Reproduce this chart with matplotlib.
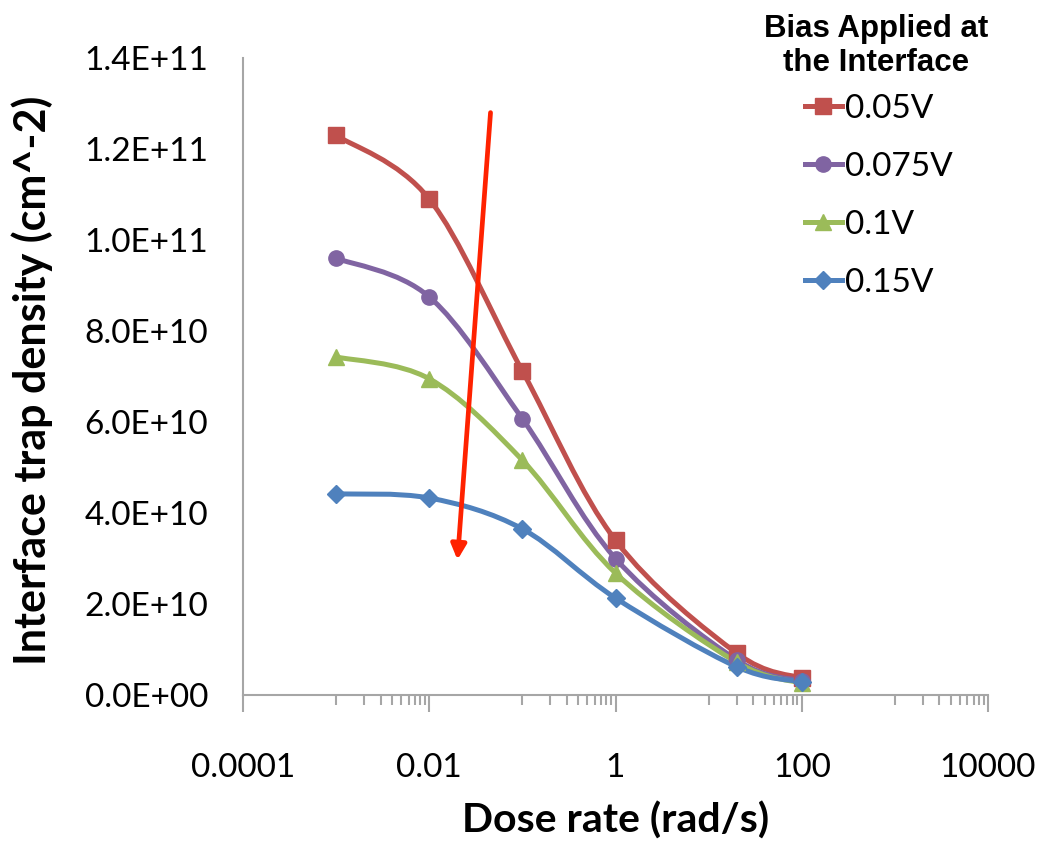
import numpy as np
import matplotlib
matplotlib.use("Agg")
import matplotlib.pyplot as plt
from matplotlib.path import Path
from matplotlib.patches import PathPatch
from matplotlib.lines import Line2D
from matplotlib.ticker import FixedLocator, FixedFormatter, NullFormatter

# data
dose_rate = [0.001, 0.01, 0.1, 1, 20, 100]
nit_005 = [12.3e10, 10.9e10, 7.12e10, 3.4e10, 0.92e10, 0.37e10]
nit_0075 = [9.6e10, 8.75e10, 6.07e10, 3.0e10, 0.77e10, 0.31e10]
nit_01 = [7.43e10, 6.95e10, 5.16e10, 2.68e10, 0.72e10, 0.26e10]
nit_015 = [4.42e10, 4.33e10, 3.65e10, 2.13e10, 0.62e10, 0.29e10]
bias_labels = ["0.05V", "0.075V", "0.1V", "0.15V"]
x_ticks = [1e-4, 1e-2, 1, 1e2, 1e4]
x_ticklabels = ["0.0001", "0.01", "1", "100", "10000"]
y_ticks = [0, 2e10, 4e10, 6e10, 8e10, 1e11, 1.2e11, 1.4e11]
y_ticklabels = ["0.0E+00", "2.0E+10", "4.0E+10", "6.0E+10", "8.0E+10",
                "1.0E+11", "1.2E+11", "1.4E+11"]

colors = ["#C0504D", "#8064A2", "#9BBB59", "#4F81BD"]
markers = ["s", "o", "^", "D"]
msizes = [11, 11, 11, 9]

plt.rcParams['font.family'] = ['Lato', 'DejaVu Sans']


def smooth_path(xs, ys):
    # Excel style smoothed line: bezier segments, built in log-x space
    lx = np.log10(xs)
    pts = np.column_stack([lx, ys])
    n = len(pts)
    verts = [pts[0]]
    codes = [Path.MOVETO]
    for i in range(n - 1):
        p_prev = pts[max(i - 1, 0)]
        p0 = pts[i]
        p1 = pts[i + 1]
        p_next = pts[min(i + 2, n - 1)]
        c1 = p0 + (p1 - p_prev) / 6.0
        c2 = p1 - (p_next - p0) / 6.0
        verts += [c1, c2, p1]
        codes += [Path.CURVE4] * 3
    verts = np.array(verts)
    verts[:, 0] = 10 ** verts[:, 0]
    return Path(verts, codes)


fig = plt.figure(figsize=(10.38, 8.43), dpi=100)
ax = fig.add_axes([243 / 1038, 1 - 695 / 843, (988 - 243) / 1038, (695 - 58) / 843])
ax.set_xscale("log")
ax.set_xlim(1e-4, 1e4)
ax.set_ylim(0, 1.4e11)

series = [nit_005, nit_0075, nit_01, nit_015]
handles = []
for vals, c, m, ms, lab in zip(series, colors, markers, msizes, bias_labels):
    patch = PathPatch(smooth_path(dose_rate, vals), fill=False, edgecolor=c,
                      lw=3.6, capstyle="round", joinstyle="round", zorder=3)
    ax.add_patch(patch)
    ax.plot(dose_rate, vals, ls="none", marker=m, ms=ms, color=c, zorder=4)
    handles.append(Line2D([], [], color=c, lw=3.6, marker=m, ms=ms, label=lab))

# red arrow showing trend with increasing bias
ax.annotate("", xy=(0.0201, 2.97e10), xytext=(0.0455, 12.8e10),
            arrowprops=dict(arrowstyle="-|>,head_length=0.9,head_width=0.45",
                            color="#FF2200", lw=3.4, shrinkA=0, shrinkB=0),
            zorder=5)

for side in ["top", "right"]:
    ax.spines[side].set_visible(False)
for side in ["left", "bottom"]:
    ax.spines[side].set_color("#A6A6A6")
    ax.spines[side].set_linewidth(1.5)

ax.xaxis.set_major_locator(FixedLocator(x_ticks))
ax.xaxis.set_major_formatter(FixedFormatter(x_ticklabels))
minor = [k * 10.0 ** e for e in (-3, -1, 1, 3) for k in range(1, 10)]
ax.xaxis.set_minor_locator(FixedLocator(minor))
ax.xaxis.set_minor_formatter(NullFormatter())
ax.tick_params(axis="x", which="major", length=12, width=1.5, color="#A6A6A6",
               labelsize=24, pad=30)
ax.tick_params(axis="x", which="minor", length=7, width=1.5, color="#A6A6A6")

ax.yaxis.set_major_locator(FixedLocator(y_ticks))
ax.yaxis.set_major_formatter(FixedFormatter(y_ticklabels))
ax.tick_params(axis="y", which="both", length=0, labelsize=24, pad=25)

ax.set_xlabel("Dose rate (rad/s)", fontsize=29.5, fontweight="bold", labelpad=13)
ax.set_ylabel("Interface trap density (cm^-2)", fontsize=31, fontweight="bold")
ax.yaxis.set_label_coords(-0.255, 0.494)

# legend title as its own text, legend entries below
fig.text(876 / 1038, 1 - 46 / 843, "Bias Applied at\nthe Interface",
         ha="center", va="center", fontsize=22.5, fontweight="bold",
         family=["Liberation Sans", "DejaVu Sans"], linespacing=1.15)
leg = fig.legend(handles=handles, loc="upper left",
                 bbox_to_anchor=(805 / 1038, 1 - 94 / 843), borderpad=0,
                 borderaxespad=0, frameon=False, fontsize=24, handlelength=1.1,
                 handletextpad=0.1, labelspacing=0.84)

fig.savefig("out.png", dpi=100)
